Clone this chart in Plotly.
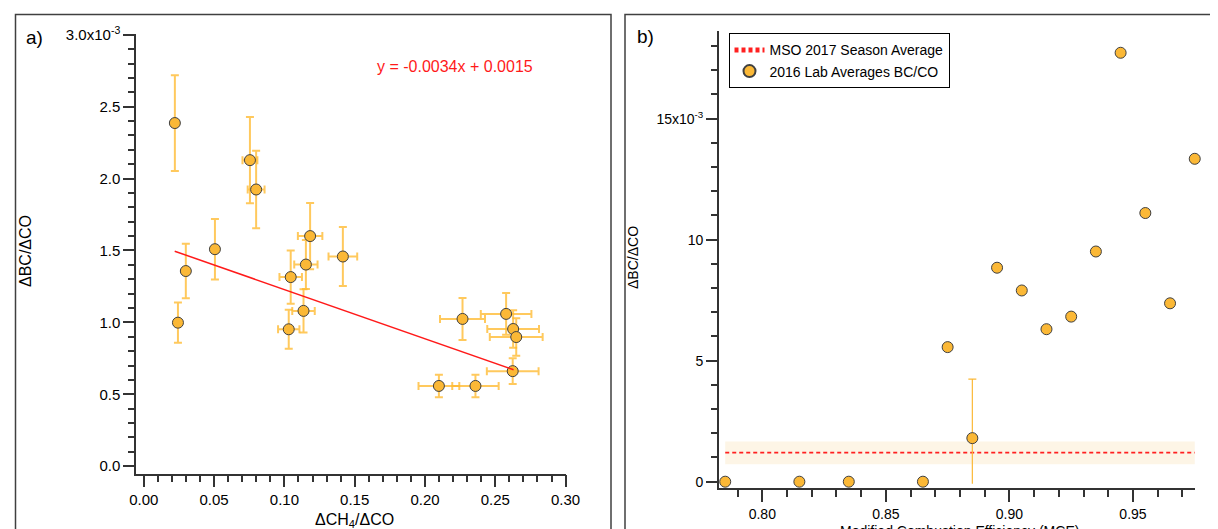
import plotly.graph_objects as go

W, H = 1218, 529

# ---------------- Panel a) data (ΔBC/ΔCO in units of 1e-3) ----------------
a_x = [0.0221, 0.0243, 0.0299, 0.0506, 0.0755, 0.0799, 0.1183, 0.1153, 0.1045, 0.1416,
       0.1136, 0.1031, 0.2267, 0.2577, 0.2627, 0.2649, 0.2624, 0.2099, 0.2359]
a_y = [2.386, 0.998, 1.357, 1.509, 2.128, 1.924, 1.600, 1.402, 1.315, 1.458,
       1.080, 0.952, 1.024, 1.059, 0.954, 0.898, 0.661, 0.558, 0.558]
a_yerr = [0.333, 0.140, 0.190, 0.210, 0.300, 0.270, 0.230, 0.170, 0.185, 0.205,
          0.150, 0.135, 0.146, 0.145, 0.130, 0.130, 0.090, 0.078, 0.078]
a_xerr = [0.0, 0.0, 0.0, 0.0, 0.0053, 0.0060, 0.0087, 0.0083, 0.0080, 0.0102,
          0.0080, 0.0076, 0.0160, 0.0180, 0.0184, 0.0188, 0.0184, 0.0145, 0.0165]
fit_slope = -3.42      # (1e-3 units)
fit_intercept = 1.57
fit_x = [0.022, 0.263]
fit_label = "y = -0.0034x + 0.0015"
a_yticks = [0.0, 0.5, 1.0, 1.5, 2.0, 2.5, 3.0]
a_yticktext = ["0.0", "0.5", "1.0", "1.5", "2.0", "2.5", "3.0x10<sup>-3</sup>"]
a_xticks = [0.00, 0.05, 0.10, 0.15, 0.20, 0.25, 0.30]
a_xticktext = ["0.00", "0.05", "0.10", "0.15", "0.20", "0.25", "0.30"]

# ---------------- Panel b) data ----------------
b_x = [0.785, 0.815, 0.835, 0.865, 0.875, 0.885, 0.895, 0.905, 0.915, 0.925,
       0.935, 0.945, 0.955, 0.965, 0.975]
b_y = [0.0, 0.0, 0.0, 0.0, 5.56, 1.80, 8.84, 7.90, 6.30, 6.82,
       9.51, 17.72, 11.10, 7.37, 13.34]
b_err_plus = [0, 0, 0, 0, 0, 2.44, 0, 0, 0, 0, 0, 0, 0, 0, 0]
b_err_minus = [0, 0, 0, 0, 0, 1.88, 0, 0, 0, 0, 0, 0, 0, 0, 0]
mso_avg = 1.20
mso_low = 0.725
mso_high = 1.66
mso_x = [0.785, 0.975]
b_yticks = [0, 5, 10, 15]
b_yticktext = ["0", "5", "10", "15x10<sup>-3</sup>"]
b_xticks = [0.80, 0.85, 0.90, 0.95]
b_xticktext = ["0.80", "0.85", "0.90", "0.95"]

FONT = "Liberation Sans, Arial, sans-serif"
ORANGE = "#FBB836"
ERR_ORANGE = "rgba(255,186,48,0.78)"
EDGE = "#404040"
AXC = "#333333"

def px_x(p):
    return p / W

def px_y(p):
    return 1 - p / H

fig = go.Figure()

# Panel a error bars + markers
fig.add_trace(go.Scatter(
    x=a_x, y=a_y, mode="markers", xaxis="x", yaxis="y", showlegend=False,
    marker=dict(size=11, color=ORANGE, line=dict(color=EDGE, width=1)),
    error_y=dict(type="data", array=a_yerr, color=ERR_ORANGE, thickness=2, width=4),
    error_x=dict(type="data", array=a_xerr, color=ERR_ORANGE, thickness=2, width=4),
    cliponaxis=False,
))
# Fit line
fit_y = [fit_slope * xv + fit_intercept for xv in fit_x]
fig.add_trace(go.Scatter(
    x=fit_x, y=fit_y, mode="lines", xaxis="x", yaxis="y", showlegend=False,
    line=dict(color="#FF1A1A", width=1.5),
))

# Panel b band
fig.add_trace(go.Scatter(
    x=[mso_x[0], mso_x[1], mso_x[1], mso_x[0], mso_x[0]],
    y=[mso_low, mso_low, mso_high, mso_high, mso_low],
    mode="lines", fill="toself", fillcolor="#FDF5E6",
    line=dict(width=0), xaxis="x2", yaxis="y2", showlegend=False, hoverinfo="skip",
))
fig.add_trace(go.Scatter(
    x=mso_x, y=[mso_avg, mso_avg], mode="lines", xaxis="x2", yaxis="y2",
    name="MSO 2017 Season Average",
    line=dict(color="#FF2020", width=1.6, dash="4px,3px"),
))
# lower part of error bar (no cap)
fig.add_trace(go.Scatter(
    x=b_x, y=b_y, mode="markers", xaxis="x2", yaxis="y2", showlegend=False,
    marker=dict(size=1, opacity=0),
    error_y=dict(type="data", symmetric=False, array=[0] * len(b_y),
                 arrayminus=b_err_minus, color=ORANGE, thickness=1.2, width=0),
    cliponaxis=False, hoverinfo="skip",
))
fig.add_trace(go.Scatter(
    x=b_x, y=b_y, mode="markers", xaxis="x2", yaxis="y2",
    name="2016 Lab Averages BC/CO",
    marker=dict(size=11, color=ORANGE, line=dict(color=EDGE, width=1)),
    error_y=dict(type="data", symmetric=False, array=b_err_plus,
                 arrayminus=[0] * len(b_y), color=ORANGE, thickness=1.2, width=4),
    cliponaxis=False,
))

axis_common = dict(showline=True, linecolor=AXC, linewidth=1.5, ticks="outside",
                   tickcolor=AXC, tickwidth=1.5, showgrid=False, zeroline=False,
                   mirror=False, automargin=False, tickmode="array")

fig.update_layout(
    width=W, height=H, autosize=False,
    margin=dict(l=0, r=0, t=0, b=0),
    paper_bgcolor="white", plot_bgcolor="white",
    font=dict(family=FONT, color="black"),
    xaxis=dict(**axis_common, domain=[px_x(128), px_x(558)],
               range=[-0.00554, 0.3003], anchor="y",
               tickvals=a_xticks, ticktext=a_xticktext, ticklen=12,
               tickfont=dict(size=15),
               minor=dict(tickmode="linear", tick0=0, dtick=0.01, ticks="outside",
                          ticklen=7, tickcolor=AXC, tickwidth=1.5)),
    yaxis=dict(**axis_common, domain=[px_y(465.6), px_y(26.3)],
               range=[-0.0514, 3.003], anchor="x",
               tickvals=a_yticks, ticktext=a_yticktext, ticklen=11,
               tickfont=dict(size=15),
               minor=dict(tickmode="linear", tick0=0, dtick=0.1, ticks="outside",
                          ticklen=6, tickcolor=AXC, tickwidth=1.5)),
    xaxis2=dict(**axis_common, domain=[px_x(710.8), px_x(1187)],
                range=[0.7824, 0.9751], anchor="y2",
                tickvals=b_xticks, ticktext=b_xticktext, ticklen=12,
                tickfont=dict(size=14),
                minor=dict(tickmode="linear", tick0=0.8, dtick=0.01, ticks="outside",
                           ticklen=7, tickcolor=AXC, tickwidth=1.5)),
    yaxis2=dict(**axis_common, domain=[px_y(480.4), px_y(23)],
                range=[-0.277, 18.62], anchor="x2",
                tickvals=b_yticks, ticktext=b_yticktext, ticklen=11,
                tickfont=dict(size=14),
                minor=dict(tickmode="linear", tick0=0, dtick=1, ticks="outside",
                           ticklen=6, tickcolor=AXC, tickwidth=1.5)),
    legend=dict(x=px_x(720.5), y=px_y(25.3), xanchor="left", yanchor="top",
                bordercolor="black", borderwidth=1, bgcolor="white",
                font=dict(size=14, family=FONT), tracegroupgap=0,
                itemsizing="constant"),
    showlegend=True,
)

# Panel borders
fig.add_shape(type="rect", xref="paper", yref="paper",
              x0=px_x(7.5), x1=px_x(603), y0=px_y(560), y1=px_y(6.5),
              line=dict(color="#404040", width=1.5), fillcolor="rgba(0,0,0,0)", layer="below")
fig.add_shape(type="rect", xref="paper", yref="paper",
              x0=px_x(617), x1=px_x(1216), y0=px_y(560), y1=px_y(6.5),
              line=dict(color="#404040", width=1.5), fillcolor="rgba(0,0,0,0)", layer="below")

ann = [
    dict(text="a)", x=px_x(26), y=px_y(30), font=dict(size=19)),
    dict(text="b)", x=px_x(637), y=px_y(29), font=dict(size=19)),
    dict(text=fit_label, x=px_x(447), y=px_y(58), font=dict(size=16, color="#FF1A1A")),
    dict(text="ΔBC/ΔCO", x=px_x(18), y=px_y(243), textangle=-90, font=dict(size=16)),
    dict(text="ΔCH<sub>4</sub>/ΔCO", x=px_x(346), y=px_y(512), font=dict(size=16)),
    dict(text="ΔBC/ΔCO", x=px_x(625), y=px_y(250), textangle=-90, font=dict(size=14)),
    dict(text="Modified Combustion Efficiency (MCE)", x=px_x(951), y=px_y(523),
         font=dict(size=14)),
]
for a in ann:
    fig.add_annotation(xref="paper", yref="paper", showarrow=False,
                       xanchor="center", yanchor="middle", **a)

fig.write_html("out.html")
